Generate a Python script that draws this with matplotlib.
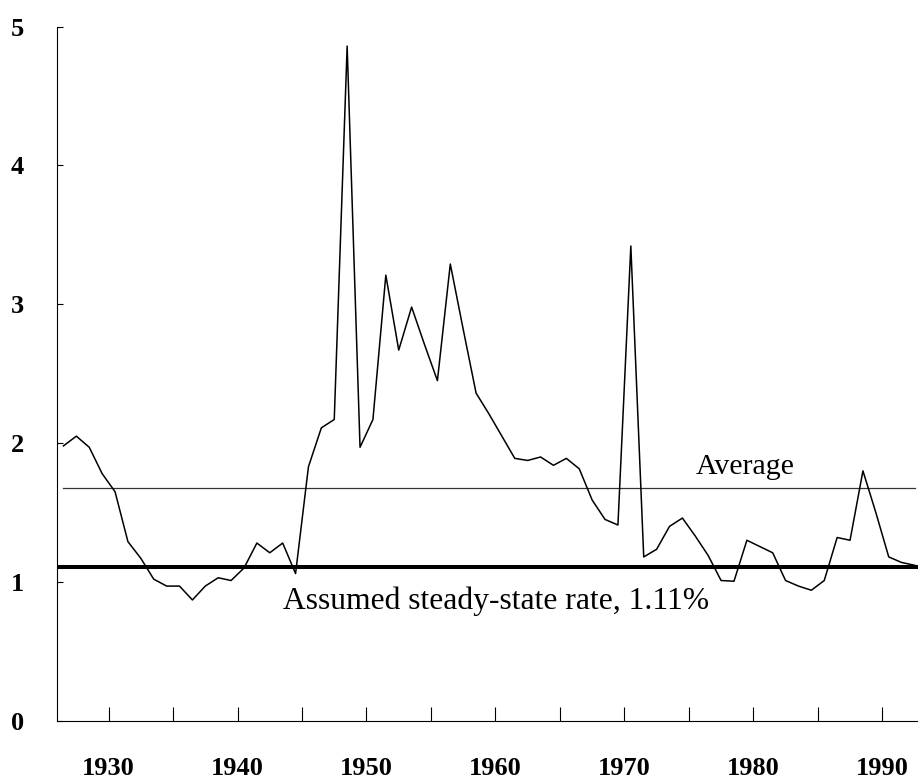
import matplotlib
matplotlib.use("Agg")
import matplotlib.pyplot as plt
import numpy as np

years = list(range(1926, 1993))
rates = [
    1.98, 2.05, 1.97, 1.78, 1.65, 1.29, 1.17, 1.02, 0.97, 0.97,
    0.87, 0.97, 1.03, 1.01, 1.10, 1.28, 1.21, 1.28, 1.06, 1.83,
    2.11, 2.17, 4.86, 1.97, 2.17, 3.21, 2.67, 2.98, 2.71, 2.45,
    3.29, 2.82, 2.36, 2.21, 2.05, 1.89, 1.875, 1.90, 1.84, 1.89,
    1.815, 1.59, 1.45, 1.41, 3.42, 1.18, 1.235, 1.40, 1.46, 1.33,
    1.19, 1.01, 1.005, 1.30, 1.255, 1.21, 1.01, 0.97, 0.94, 1.01,
    1.32, 1.30, 1.80, 1.50, 1.18, 1.14, 1.12,
]
average = 1.678
steady_state = 1.11
decades = [1930, 1940, 1950, 1960, 1970, 1980, 1990]
half_decades = [1935, 1945, 1955, 1965, 1975, 1985]

plt.rcParams["font.family"] = ["Liberation Serif", "DejaVu Serif"]

fig = plt.figure(figsize=(9.18, 7.80), dpi=100)
ax = fig.add_axes([0.0621, 0.076, 0.9379, 0.8898])

# points sit in the middle of each year
x = np.array(years) + 0.5
ax.plot(x, rates, color="black", lw=1.1, zorder=3)
ax.plot([x[0], x[-1]], [average, average], color="#333333", lw=0.9, zorder=2)
ax.axhline(steady_state, color="black", lw=2.9, zorder=4)

ax.text(1979.4, 1.83, "Average", fontsize=21.5, ha="center", va="center")
ax.text(1943.5, 0.86, "Assumed steady-state rate, 1.11%", fontsize=22.8,
        ha="left", va="center")

ax.set_xlim(1926, 1992.77)
ax.set_ylim(0, 5)

ax.set_xticks(decades)
ax.set_xticklabels([str(d) for d in decades])
ax.set_xticks(half_decades, minor=True)
ax.set_yticks([0, 1, 2, 3, 4, 5])
ax.set_yticklabels(["0", "1", "2", "3", "4", "5"])

ax.tick_params(axis="x", which="both", direction="in", length=10, width=0.8,
               pad=26, labelsize=19)
ax.tick_params(axis="y", direction="in", length=4, width=0.8, pad=24,
               labelsize=19)
for lab in ax.get_xticklabels() + ax.get_yticklabels():
    lab.set_fontweight("bold")

ax.spines["top"].set_visible(False)
ax.spines["right"].set_visible(False)
ax.spines["left"].set_linewidth(0.8)
ax.spines["bottom"].set_linewidth(0.8)

fig.savefig("out.png", dpi=100)
